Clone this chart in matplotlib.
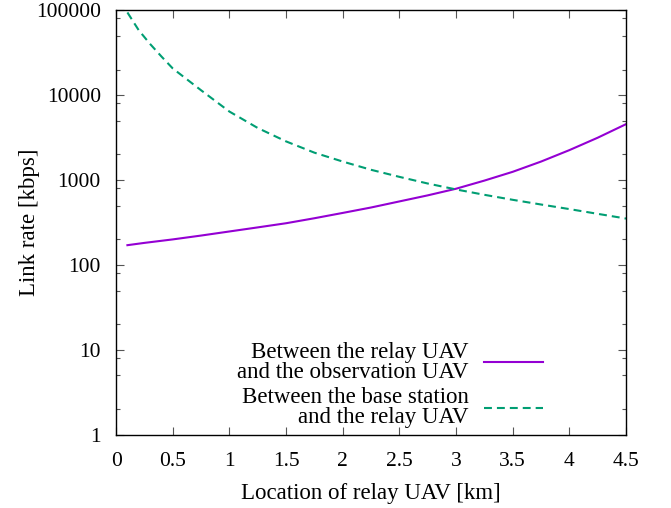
#!/usr/bin/env python3
import matplotlib

matplotlib.use("Agg")
import matplotlib.pyplot as plt
from matplotlib.ticker import FixedLocator, LogLocator, NullFormatter

# values (link rate in kbps vs relay position in km)
relay_obs_x = [0.1, 0.25, 0.5, 0.75, 1.0, 1.25, 1.5, 1.75, 2.0, 2.25,
               2.5, 2.75, 3.0, 3.25, 3.5, 3.75, 4.0, 4.25, 4.5]
relay_obs_rate = [171, 182, 200, 222, 248, 277, 310, 355, 410, 475,
                  560, 660, 790, 985, 1250, 1650, 2250, 3150, 4550]

base_relay_x = [0.1, 0.2, 0.3, 0.4, 0.5, 0.75, 1.0, 1.25, 1.5, 1.75, 2.0,
                2.25, 2.5, 2.75, 3.0, 3.25, 3.5, 3.75, 4.0, 4.25, 4.5]
base_relay_rate = [94000, 58000, 40000, 28500, 20600, 11400, 6400, 4100,
                   2850, 2100, 1650, 1320, 1090, 910, 775, 670, 585, 515,
                   455, 400, 352]

x_ticks = [0, 0.5, 1, 1.5, 2, 2.5, 3, 3.5, 4, 4.5]
x_tick_labels = ["0", "0.5", "1", "1.5", "2", "2.5", "3", "3.5", "4", "4.5"]
y_ticks = [1, 10, 100, 1000, 10000, 100000]
y_tick_labels = ["1", "10", "100", "1000", "10000", "100000"]

labels = ["Between the relay UAV\nand the observation UAV",
          "Between the base station\nand the relay UAV"]

plt.rcParams["font.family"] = ["Liberation Serif", "DejaVu Serif"]
plt.rcParams["font.size"] = 16.5

fig = plt.figure(figsize=(6.71, 5.08), dpi=100)
ax = fig.add_axes([0.173, 0.144, 0.760, 0.836])

ax.plot(relay_obs_x, relay_obs_rate, color="#9400d3", linewidth=1.5,
        label=labels[0])
ax.plot(base_relay_x, base_relay_rate, color="#009e73", linewidth=1.5,
        dashes=(3.8, 2.4), label=labels[1])

ax.set_yscale("log")
ax.set_xlim(0, 4.5)
ax.set_ylim(1, 100000)
ax.set_xticks(x_ticks, x_tick_labels)
ax.set_yticks(y_ticks, y_tick_labels)
ax.yaxis.set_minor_locator(LogLocator(base=10, subs=(2.0, 5.0, 8.0)))
ax.yaxis.set_minor_formatter(NullFormatter())
ax.xaxis.set_minor_locator(FixedLocator([]))

ax.tick_params(which="both", direction="in", top=True, right=True,
               width=0.8, color="#555555", labelsize=15.5)
ax.tick_params(which="major", length=5.5)
ax.tick_params(which="minor", length=3)
ax.tick_params(axis="x", which="major", pad=12)
ax.tick_params(axis="y", which="major", pad=11)
for spine in ax.spines.values():
    spine.set_linewidth(1.0)

ax.set_xlabel("Location of relay UAV [km]", labelpad=9)
ax.set_ylabel("Link rate [kbps]", labelpad=-3)

leg = ax.legend(loc="lower right", bbox_to_anchor=(0.837, 0.016),
                markerfirst=False, frameon=False, handlelength=2.55,
                handletextpad=0.68, labelspacing=0.21, borderpad=0,
                borderaxespad=0)
for text in leg.get_texts():
    text.set_multialignment("right")
    text.set_linespacing(0.92)

fig.savefig("out.png", dpi=100)
